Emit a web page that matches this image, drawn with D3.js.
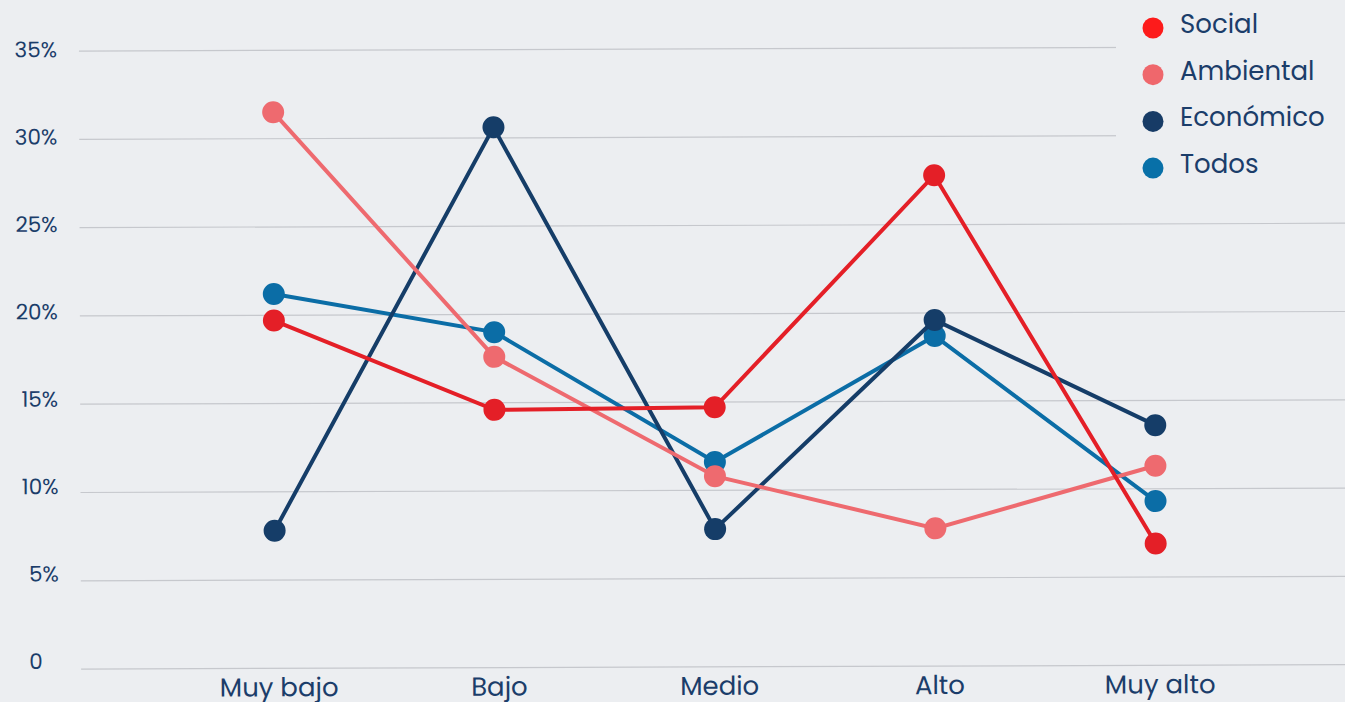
<!DOCTYPE html>
<html>
<head>
<meta charset="utf-8">
<script src="https://cdn.jsdelivr.net/npm/d3@7"></script>
<style>
  html, body { margin: 0; padding: 0; background: #eceef1; overflow: hidden; }
  svg { display: block; font-family: "Poppins", "Open Sans", sans-serif; }
</style>
</head>
<body>
<svg id="chart" width="1345" height="702"></svg>
<script>
const categories = ['Muy bajo', 'Bajo', 'Medio', 'Alto', 'Muy alto'];
const seriesNames = ['Social', 'Ambiental', 'Económico', 'Todos'];
const social = [19.7, 14.6, 14.7, 27.8, 6.9];
const ambiental = [31.5, 17.6, 10.8, 7.8, 11.3];
const economico = [7.8, 30.6, 7.8, 19.6, 13.6];
const todos = [21.2, 19.0, 11.6, 18.7, 9.3];
const yTicks = [0, 5, 10, 15, 20, 25, 30, 35];
const lineColors = ['#e41f27', '#ee6a6f', '#153d68', '#0b6da6'];
const legendColors = ['#fd1b1b', '#ef676c', '#173b66', '#0870a8'];

const series = [
    {name: 'Todos', values: todos, color: lineColors[3]},
    {name: 'Económico', values: economico, color: lineColors[2]},
    {name: 'Ambiental', values: ambiental, color: lineColors[1]},
    {name: 'Social', values: social, color: lineColors[0]}
];

const svg = d3.select('#chart');

const g = svg.append('g').attr('transform', 'rotate(-0.2 672 351)');

const x = d3.scalePoint().domain(categories).range([274, 1155]);
const y = d3.scaleLinear().domain([0, 35]).range([667, 49]);

// grid
g.selectAll('.grid').data(yTicks).enter().append('line')
    .attr('x1', 80).attr('x2', 1360)
    .attr('y1', d => y(d)).attr('y2', d => y(d))
    .style('stroke', '#c6c8cd').style('stroke-width', 1.2);

// y labels
g.selectAll('.ylab').data(yTicks).enter().append('text')
    .attr('x', d => d === 0 ? 35 : 58)
    .attr('y', d => y(d) + 6 - (35 - d) * 0.18)
    .attr('text-anchor', d => d === 0 ? 'middle' : 'end')
    .style('font-size', '21.5px')
    .style('fill', '#1b3d6a')
    .text(d => d === 0 ? '0' : d + '%');

// x labels
g.selectAll('.xlab').data(categories).enter().append('text')
    .attr('x', d => x(d) + 4)
    .attr('y', 695)
    .attr('text-anchor', 'middle')
    .style('font-size', '26px')
    .style('fill', '#1b3d6a')
    .text(d => d);

const line = d3.line()
    .x((d, i) => x(categories[i]))
    .y(d => y(d));

series.forEach(s => {
    const sg = g.append('g');
    sg.append('path')
        .datum(s.values)
        .attr('d', line)
        .style('fill', 'none')
        .style('stroke', s.color)
        .style('stroke-width', 4);
    sg.selectAll('circle').data(s.values).enter().append('circle')
        .attr('cx', (d, i) => x(categories[i]))
        .attr('cy', d => y(d))
        .attr('r', 11)
        .style('fill', s.color);
});

// legend
const legend = svg.append('g');
legend.append('rect')
    .attr('x', 1116).attr('y', 0).attr('width', 229).attr('height', 198)
    .style('fill', '#eceef1');
seriesNames.forEach((name, i) => {
    const ly = 28 + i * 46.7;
    legend.append('circle')
        .attr('cx', 1153).attr('cy', ly).attr('r', 10.5)
        .style('fill', legendColors[i]);
    legend.append('text')
        .attr('x', 1180).attr('y', ly + 5)
        .style('font-size', '26px')
        .style('fill', '#1b3d6a')
        .text(name);
});
</script>
</body>
</html>
